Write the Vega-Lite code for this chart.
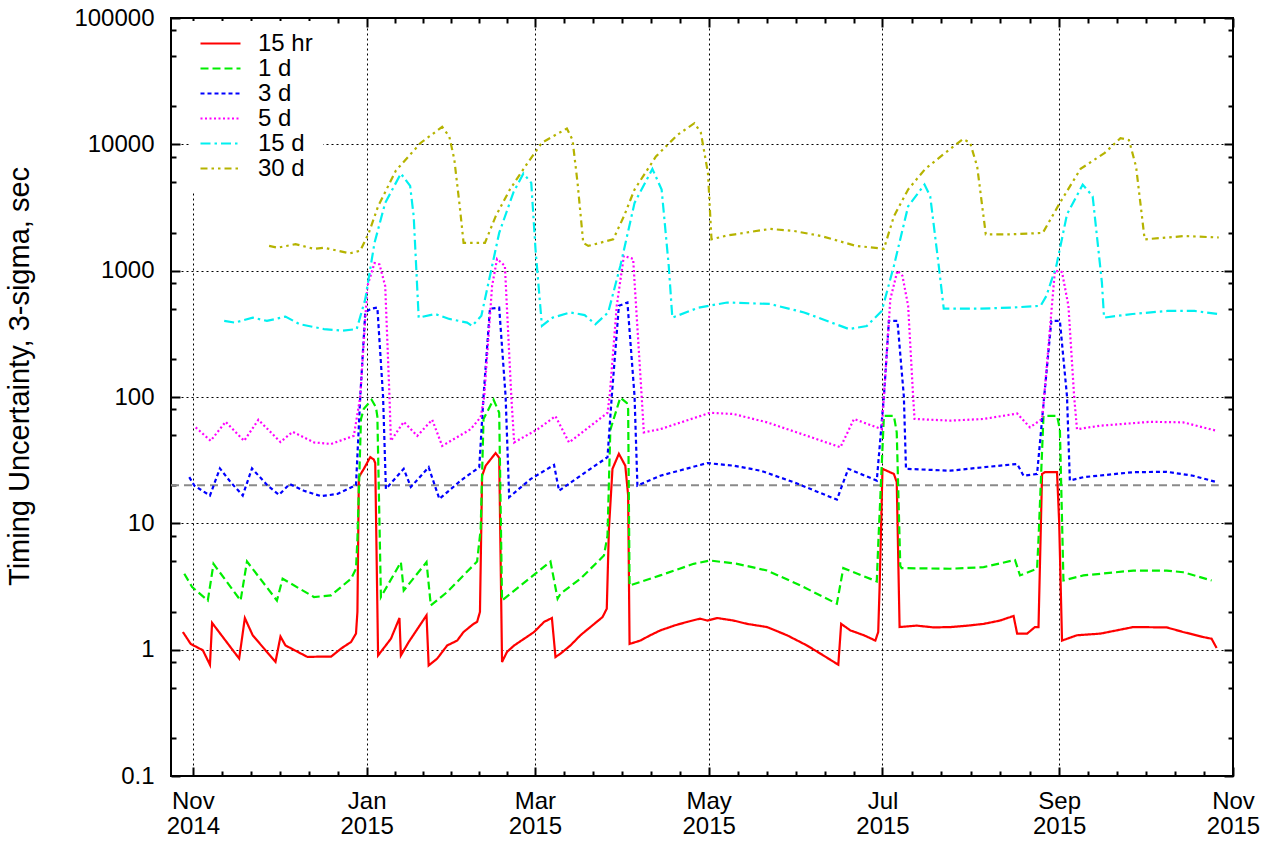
{
  "$schema": "https://vega.github.io/schema/vega-lite/v6.json",
  "width": 1062,
  "height": 758,
  "autosize": {"type": "none"},
  "padding": {"left": 171, "top": 18, "right": 38, "bottom": 66},
  "background": "white",
  "config": {
    "view": {"stroke": "black", "strokeWidth": 2},
    "font": "Liberation Sans",
    "axis": {"domain": false, "labelFont": "Liberation Sans", "titleFont": "Liberation Sans", "labelColor": "black", "tickColor": "black", "titleColor": "black"},
    "legend": {"labelFont": "Liberation Sans", "labelColor": "black"}
  },
  "datasets": {
    "ref": [
      {"t": "2014-10-24T08:00Z", "v": 20},
      {"t": "2015-10-27T00:00Z", "v": 20}
    ],
    "series": [
      {"s": "15 hr", "t": "2014-10-28T12:00Z", "v": 1.38},
      {"s": "15 hr", "t": "2014-10-31T06:00Z", "v": 1.11},
      {"s": "15 hr", "t": "2014-11-04T12:00Z", "v": 0.99},
      {"s": "15 hr", "t": "2014-11-07T00:00Z", "v": 0.76},
      {"s": "15 hr", "t": "2014-11-07T18:00Z", "v": 1.63},
      {"s": "15 hr", "t": "2014-11-17T06:00Z", "v": 0.85},
      {"s": "15 hr", "t": "2014-11-19T06:00Z", "v": 1.78},
      {"s": "15 hr", "t": "2014-11-22T00:00Z", "v": 1.30},
      {"s": "15 hr", "t": "2014-11-30T00:00Z", "v": 0.80},
      {"s": "15 hr", "t": "2014-12-01T18:00Z", "v": 1.27},
      {"s": "15 hr", "t": "2014-12-03T12:00Z", "v": 1.08},
      {"s": "15 hr", "t": "2014-12-11T06:00Z", "v": 0.875},
      {"s": "15 hr", "t": "2014-12-14T18:00Z", "v": 0.88},
      {"s": "15 hr", "t": "2014-12-19T12:00Z", "v": 0.88},
      {"s": "15 hr", "t": "2014-12-23T00:00Z", "v": 1.02},
      {"s": "15 hr", "t": "2014-12-26T12:00Z", "v": 1.15},
      {"s": "15 hr", "t": "2014-12-28T06:00Z", "v": 1.34},
      {"s": "15 hr", "t": "2014-12-28T18:00Z", "v": 1.99},
      {"s": "15 hr", "t": "2014-12-29T06:00Z", "v": 23.2},
      {"s": "15 hr", "t": "2014-12-31T00:00Z", "v": 27},
      {"s": "15 hr", "t": "2015-01-02T06:00Z", "v": 33.4},
      {"s": "15 hr", "t": "2015-01-03T12:00Z", "v": 32},
      {"s": "15 hr", "t": "2015-01-04T00:00Z", "v": 30},
      {"s": "15 hr", "t": "2015-01-05T00:00Z", "v": 0.9},
      {"s": "15 hr", "t": "2015-01-09T12:00Z", "v": 1.22},
      {"s": "15 hr", "t": "2015-01-12T12:00Z", "v": 1.78},
      {"s": "15 hr", "t": "2015-01-13T00:00Z", "v": 0.9},
      {"s": "15 hr", "t": "2015-01-15T18:00Z", "v": 1.15},
      {"s": "15 hr", "t": "2015-01-22T00:00Z", "v": 1.87},
      {"s": "15 hr", "t": "2015-01-22T18:00Z", "v": 0.75},
      {"s": "15 hr", "t": "2015-01-25T18:00Z", "v": 0.85},
      {"s": "15 hr", "t": "2015-01-29T06:00Z", "v": 1.08},
      {"s": "15 hr", "t": "2015-02-01T18:00Z", "v": 1.18},
      {"s": "15 hr", "t": "2015-02-04T00:00Z", "v": 1.38},
      {"s": "15 hr", "t": "2015-02-07T12:00Z", "v": 1.6},
      {"s": "15 hr", "t": "2015-02-08T18:00Z", "v": 1.66},
      {"s": "15 hr", "t": "2015-02-09T18:00Z", "v": 1.99},
      {"s": "15 hr", "t": "2015-02-10T12:00Z", "v": 23.8},
      {"s": "15 hr", "t": "2015-02-11T18:00Z", "v": 28.6},
      {"s": "15 hr", "t": "2015-02-15T06:00Z", "v": 36},
      {"s": "15 hr", "t": "2015-02-16T12:00Z", "v": 33},
      {"s": "15 hr", "t": "2015-02-17T12:00Z", "v": 0.8},
      {"s": "15 hr", "t": "2015-02-19T06:00Z", "v": 0.96},
      {"s": "15 hr", "t": "2015-02-21T18:00Z", "v": 1.08},
      {"s": "15 hr", "t": "2015-02-25T06:00Z", "v": 1.22},
      {"s": "15 hr", "t": "2015-02-28T18:00Z", "v": 1.38},
      {"s": "15 hr", "t": "2015-03-04T06:00Z", "v": 1.66},
      {"s": "15 hr", "t": "2015-03-07T00:00Z", "v": 1.78},
      {"s": "15 hr", "t": "2015-03-08T06:00Z", "v": 0.875},
      {"s": "15 hr", "t": "2015-03-10T00:00Z", "v": 0.93},
      {"s": "15 hr", "t": "2015-03-13T12:00Z", "v": 1.08},
      {"s": "15 hr", "t": "2015-03-17T00:00Z", "v": 1.30},
      {"s": "15 hr", "t": "2015-03-20T12:00Z", "v": 1.51},
      {"s": "15 hr", "t": "2015-03-24T18:00Z", "v": 1.81},
      {"s": "15 hr", "t": "2015-03-26T06:00Z", "v": 2.11},
      {"s": "15 hr", "t": "2015-03-27T00:00Z", "v": 9.0},
      {"s": "15 hr", "t": "2015-03-28T06:00Z", "v": 27},
      {"s": "15 hr", "t": "2015-03-30T12:00Z", "v": 35.5},
      {"s": "15 hr", "t": "2015-04-01T18:00Z", "v": 28.6},
      {"s": "15 hr", "t": "2015-04-02T18:00Z", "v": 16.6},
      {"s": "15 hr", "t": "2015-04-03T06:00Z", "v": 1.11},
      {"s": "15 hr", "t": "2015-04-07T00:00Z", "v": 1.18},
      {"s": "15 hr", "t": "2015-04-10T12:00Z", "v": 1.30},
      {"s": "15 hr", "t": "2015-04-14T00:00Z", "v": 1.42},
      {"s": "15 hr", "t": "2015-04-19T06:00Z", "v": 1.56},
      {"s": "15 hr", "t": "2015-04-23T12:00Z", "v": 1.66},
      {"s": "15 hr", "t": "2015-04-28T00:00Z", "v": 1.76},
      {"s": "15 hr", "t": "2015-04-30T12:00Z", "v": 1.70},
      {"s": "15 hr", "t": "2015-05-04T00:00Z", "v": 1.78},
      {"s": "15 hr", "t": "2015-05-09T18:00Z", "v": 1.70},
      {"s": "15 hr", "t": "2015-05-14T12:00Z", "v": 1.60},
      {"s": "15 hr", "t": "2015-05-21T12:00Z", "v": 1.51},
      {"s": "15 hr", "t": "2015-05-28T12:00Z", "v": 1.30},
      {"s": "15 hr", "t": "2015-06-04T12:00Z", "v": 1.08},
      {"s": "15 hr", "t": "2015-06-10T06:00Z", "v": 0.90},
      {"s": "15 hr", "t": "2015-06-15T12:00Z", "v": 0.76},
      {"s": "15 hr", "t": "2015-06-16T12:00Z", "v": 1.60},
      {"s": "15 hr", "t": "2015-06-19T18:00Z", "v": 1.42},
      {"s": "15 hr", "t": "2015-06-24T12:00Z", "v": 1.30},
      {"s": "15 hr", "t": "2015-06-28T12:00Z", "v": 1.18},
      {"s": "15 hr", "t": "2015-06-29T12:00Z", "v": 1.38},
      {"s": "15 hr", "t": "2015-06-30T00:00Z", "v": 3.2},
      {"s": "15 hr", "t": "2015-07-01T00:00Z", "v": 27},
      {"s": "15 hr", "t": "2015-07-05T00:00Z", "v": 24.6},
      {"s": "15 hr", "t": "2015-07-06T00:00Z", "v": 21.2},
      {"s": "15 hr", "t": "2015-07-07T00:00Z", "v": 1.51},
      {"s": "15 hr", "t": "2015-07-13T00:00Z", "v": 1.55},
      {"s": "15 hr", "t": "2015-07-19T00:00Z", "v": 1.50},
      {"s": "15 hr", "t": "2015-07-25T00:00Z", "v": 1.51},
      {"s": "15 hr", "t": "2015-07-31T00:00Z", "v": 1.55},
      {"s": "15 hr", "t": "2015-08-05T12:00Z", "v": 1.60},
      {"s": "15 hr", "t": "2015-08-11T06:00Z", "v": 1.70},
      {"s": "15 hr", "t": "2015-08-16T00:00Z", "v": 1.85},
      {"s": "15 hr", "t": "2015-08-17T06:00Z", "v": 1.34},
      {"s": "15 hr", "t": "2015-08-20T18:00Z", "v": 1.34},
      {"s": "15 hr", "t": "2015-08-23T12:00Z", "v": 1.51},
      {"s": "15 hr", "t": "2015-08-24T18:00Z", "v": 1.51},
      {"s": "15 hr", "t": "2015-08-26T00:00Z", "v": 24.6},
      {"s": "15 hr", "t": "2015-08-27T00:00Z", "v": 25.4},
      {"s": "15 hr", "t": "2015-08-31T06:00Z", "v": 25.4},
      {"s": "15 hr", "t": "2015-09-01T00:00Z", "v": 10.2},
      {"s": "15 hr", "t": "2015-09-02T00:00Z", "v": 1.18},
      {"s": "15 hr", "t": "2015-09-07T06:00Z", "v": 1.30},
      {"s": "15 hr", "t": "2015-09-15T12:00Z", "v": 1.34},
      {"s": "15 hr", "t": "2015-09-27T00:00Z", "v": 1.51},
      {"s": "15 hr", "t": "2015-10-08T18:00Z", "v": 1.50},
      {"s": "15 hr", "t": "2015-10-14T12:00Z", "v": 1.38},
      {"s": "15 hr", "t": "2015-10-21T12:00Z", "v": 1.26},
      {"s": "15 hr", "t": "2015-10-24T12:00Z", "v": 1.22},
      {"s": "15 hr", "t": "2015-10-26T06:00Z", "v": 1.03},

      {"s": "1 d", "t": "2014-10-29T00:00Z", "v": 3.99},
      {"s": "1 d", "t": "2014-10-31T18:00Z", "v": 3.13},
      {"s": "1 d", "t": "2014-11-06T06:00Z", "v": 2.45},
      {"s": "1 d", "t": "2014-11-08T06:00Z", "v": 4.78},
      {"s": "1 d", "t": "2014-11-17T18:00Z", "v": 2.45},
      {"s": "1 d", "t": "2014-11-20T00:00Z", "v": 4.99},
      {"s": "1 d", "t": "2014-11-30T12:00Z", "v": 2.45},
      {"s": "1 d", "t": "2014-12-02T12:00Z", "v": 3.64},
      {"s": "1 d", "t": "2014-12-13T12:00Z", "v": 2.61},
      {"s": "1 d", "t": "2014-12-19T12:00Z", "v": 2.69},
      {"s": "1 d", "t": "2014-12-26T12:00Z", "v": 3.64},
      {"s": "1 d", "t": "2014-12-28T06:00Z", "v": 4.37},
      {"s": "1 d", "t": "2014-12-28T18:00Z", "v": 7.5},
      {"s": "1 d", "t": "2014-12-30T00:00Z", "v": 67},
      {"s": "1 d", "t": "2014-12-31T00:00Z", "v": 80.5},
      {"s": "1 d", "t": "2015-01-02T18:00Z", "v": 95},
      {"s": "1 d", "t": "2015-01-04T06:00Z", "v": 83},
      {"s": "1 d", "t": "2015-01-04T18:00Z", "v": 70},
      {"s": "1 d", "t": "2015-01-06T00:00Z", "v": 2.61},
      {"s": "1 d", "t": "2015-01-13T00:00Z", "v": 4.93},
      {"s": "1 d", "t": "2015-01-14T00:00Z", "v": 2.94},
      {"s": "1 d", "t": "2015-01-22T00:00Z", "v": 4.93},
      {"s": "1 d", "t": "2015-01-23T12:00Z", "v": 2.24},
      {"s": "1 d", "t": "2015-01-29T06:00Z", "v": 2.86},
      {"s": "1 d", "t": "2015-02-08T18:00Z", "v": 4.99},
      {"s": "1 d", "t": "2015-02-10T00:00Z", "v": 9.0},
      {"s": "1 d", "t": "2015-02-11T00:00Z", "v": 67},
      {"s": "1 d", "t": "2015-02-14T12:00Z", "v": 95.5},
      {"s": "1 d", "t": "2015-02-16T12:00Z", "v": 75},
      {"s": "1 d", "t": "2015-02-17T12:00Z", "v": 2.45},
      {"s": "1 d", "t": "2015-02-24T00:00Z", "v": 3.22},
      {"s": "1 d", "t": "2015-03-06T12:00Z", "v": 4.99},
      {"s": "1 d", "t": "2015-03-09T00:00Z", "v": 2.53},
      {"s": "1 d", "t": "2015-03-10T00:00Z", "v": 2.77},
      {"s": "1 d", "t": "2015-03-17T00:00Z", "v": 3.64},
      {"s": "1 d", "t": "2015-03-25T06:00Z", "v": 5.56},
      {"s": "1 d", "t": "2015-03-26T12:00Z", "v": 8},
      {"s": "1 d", "t": "2015-03-27T12:00Z", "v": 55},
      {"s": "1 d", "t": "2015-03-31T00:00Z", "v": 99},
      {"s": "1 d", "t": "2015-04-02T06:00Z", "v": 90},
      {"s": "1 d", "t": "2015-04-02T18:00Z", "v": 80},
      {"s": "1 d", "t": "2015-04-03T06:00Z", "v": 3.22},
      {"s": "1 d", "t": "2015-04-14T00:00Z", "v": 3.87},
      {"s": "1 d", "t": "2015-04-25T18:00Z", "v": 4.78},
      {"s": "1 d", "t": "2015-05-01T12:00Z", "v": 5.08},
      {"s": "1 d", "t": "2015-05-11T00:00Z", "v": 4.78},
      {"s": "1 d", "t": "2015-05-21T12:00Z", "v": 4.23},
      {"s": "1 d", "t": "2015-06-02T06:00Z", "v": 3.22},
      {"s": "1 d", "t": "2015-06-15T00:00Z", "v": 2.31},
      {"s": "1 d", "t": "2015-06-17T06:00Z", "v": 4.42},
      {"s": "1 d", "t": "2015-06-29T00:00Z", "v": 3.47},
      {"s": "1 d", "t": "2015-06-29T12:00Z", "v": 6.7},
      {"s": "1 d", "t": "2015-07-01T12:00Z", "v": 71},
      {"s": "1 d", "t": "2015-07-05T00:00Z", "v": 71},
      {"s": "1 d", "t": "2015-07-06T00:00Z", "v": 52.5},
      {"s": "1 d", "t": "2015-07-07T06:00Z", "v": 4.6},
      {"s": "1 d", "t": "2015-07-07T18:00Z", "v": 4.42},
      {"s": "1 d", "t": "2015-07-24T18:00Z", "v": 4.37},
      {"s": "1 d", "t": "2015-08-05T12:00Z", "v": 4.5},
      {"s": "1 d", "t": "2015-08-16T12:00Z", "v": 5.13},
      {"s": "1 d", "t": "2015-08-18T06:00Z", "v": 3.87},
      {"s": "1 d", "t": "2015-08-24T06:00Z", "v": 4.37},
      {"s": "1 d", "t": "2015-08-24T18:00Z", "v": 7.5},
      {"s": "1 d", "t": "2015-08-26T12:00Z", "v": 71},
      {"s": "1 d", "t": "2015-08-31T06:00Z", "v": 71},
      {"s": "1 d", "t": "2015-09-01T06:00Z", "v": 55.6},
      {"s": "1 d", "t": "2015-09-02T12:00Z", "v": 3.53},
      {"s": "1 d", "t": "2015-09-09T12:00Z", "v": 3.87},
      {"s": "1 d", "t": "2015-09-27T00:00Z", "v": 4.23},
      {"s": "1 d", "t": "2015-10-08T18:00Z", "v": 4.23},
      {"s": "1 d", "t": "2015-10-14T12:00Z", "v": 4.1},
      {"s": "1 d", "t": "2015-10-24T12:00Z", "v": 3.53},

      {"s": "3 d", "t": "2014-10-30T18:00Z", "v": 23.2},
      {"s": "3 d", "t": "2014-11-01T12:00Z", "v": 19.9},
      {"s": "3 d", "t": "2014-11-07T00:00Z", "v": 16.6},
      {"s": "3 d", "t": "2014-11-10T12:00Z", "v": 27.2},
      {"s": "3 d", "t": "2014-11-14T06:00Z", "v": 21.2},
      {"s": "3 d", "t": "2014-11-18T12:00Z", "v": 16.6},
      {"s": "3 d", "t": "2014-11-21T18:00Z", "v": 27.2},
      {"s": "3 d", "t": "2014-11-27T06:00Z", "v": 19.9},
      {"s": "3 d", "t": "2014-12-01T06:00Z", "v": 16.8},
      {"s": "3 d", "t": "2014-12-05T00:00Z", "v": 20.5},
      {"s": "3 d", "t": "2014-12-10T00:00Z", "v": 18.1},
      {"s": "3 d", "t": "2014-12-16T00:00Z", "v": 16.4},
      {"s": "3 d", "t": "2014-12-21T18:00Z", "v": 17.1},
      {"s": "3 d", "t": "2014-12-28T06:00Z", "v": 20.1},
      {"s": "3 d", "t": "2014-12-29T18:00Z", "v": 101},
      {"s": "3 d", "t": "2014-12-31T12:00Z", "v": 467},
      {"s": "3 d", "t": "2015-01-02T12:00Z", "v": 500},
      {"s": "3 d", "t": "2015-01-04T18:00Z", "v": 510},
      {"s": "3 d", "t": "2015-01-06T18:00Z", "v": 101},
      {"s": "3 d", "t": "2015-01-07T18:00Z", "v": 18.7},
      {"s": "3 d", "t": "2015-01-14T00:00Z", "v": 27},
      {"s": "3 d", "t": "2015-01-16T12:00Z", "v": 19.4},
      {"s": "3 d", "t": "2015-01-22T18:00Z", "v": 27.8},
      {"s": "3 d", "t": "2015-01-26T12:00Z", "v": 15.6},
      {"s": "3 d", "t": "2015-02-03T00:00Z", "v": 21.8},
      {"s": "3 d", "t": "2015-02-09T12:00Z", "v": 27.8},
      {"s": "3 d", "t": "2015-02-11T00:00Z", "v": 101},
      {"s": "3 d", "t": "2015-02-13T06:00Z", "v": 500},
      {"s": "3 d", "t": "2015-02-16T12:00Z", "v": 510},
      {"s": "3 d", "t": "2015-02-18T18:00Z", "v": 101},
      {"s": "3 d", "t": "2015-02-20T00:00Z", "v": 16.1},
      {"s": "3 d", "t": "2015-02-27T12:00Z", "v": 22.4},
      {"s": "3 d", "t": "2015-03-07T18:00Z", "v": 29},
      {"s": "3 d", "t": "2015-03-09T12:00Z", "v": 18.1},
      {"s": "3 d", "t": "2015-03-17T00:00Z", "v": 23.8},
      {"s": "3 d", "t": "2015-03-26T12:00Z", "v": 33.4},
      {"s": "3 d", "t": "2015-03-28T00:00Z", "v": 101},
      {"s": "3 d", "t": "2015-03-30T12:00Z", "v": 527},
      {"s": "3 d", "t": "2015-04-02T12:00Z", "v": 560},
      {"s": "3 d", "t": "2015-04-05T00:00Z", "v": 101},
      {"s": "3 d", "t": "2015-04-06T00:00Z", "v": 19.9},
      {"s": "3 d", "t": "2015-04-14T00:00Z", "v": 23.8},
      {"s": "3 d", "t": "2015-04-30T12:00Z", "v": 30},
      {"s": "3 d", "t": "2015-05-09T18:00Z", "v": 28.6},
      {"s": "3 d", "t": "2015-05-19T06:00Z", "v": 26.1},
      {"s": "3 d", "t": "2015-05-30T18:00Z", "v": 21.2},
      {"s": "3 d", "t": "2015-06-15T00:00Z", "v": 15.4},
      {"s": "3 d", "t": "2015-06-19T00:00Z", "v": 27},
      {"s": "3 d", "t": "2015-06-29T00:00Z", "v": 21.8},
      {"s": "3 d", "t": "2015-07-01T12:00Z", "v": 101},
      {"s": "3 d", "t": "2015-07-03T06:00Z", "v": 400},
      {"s": "3 d", "t": "2015-07-06T06:00Z", "v": 400},
      {"s": "3 d", "t": "2015-07-08T12:00Z", "v": 101},
      {"s": "3 d", "t": "2015-07-09T06:00Z", "v": 27},
      {"s": "3 d", "t": "2015-07-24T18:00Z", "v": 26.1},
      {"s": "3 d", "t": "2015-08-05T12:00Z", "v": 27.8},
      {"s": "3 d", "t": "2015-08-17T06:00Z", "v": 29.5},
      {"s": "3 d", "t": "2015-08-19T12:00Z", "v": 23.8},
      {"s": "3 d", "t": "2015-08-24T06:00Z", "v": 24.6},
      {"s": "3 d", "t": "2015-08-26T18:00Z", "v": 101},
      {"s": "3 d", "t": "2015-08-29T06:00Z", "v": 400},
      {"s": "3 d", "t": "2015-09-01T06:00Z", "v": 400},
      {"s": "3 d", "t": "2015-09-03T18:00Z", "v": 101},
      {"s": "3 d", "t": "2015-09-04T18:00Z", "v": 21.8},
      {"s": "3 d", "t": "2015-09-09T12:00Z", "v": 23.2},
      {"s": "3 d", "t": "2015-09-27T00:00Z", "v": 25.4},
      {"s": "3 d", "t": "2015-10-08T18:00Z", "v": 25.6},
      {"s": "3 d", "t": "2015-10-18T00:00Z", "v": 23.8},
      {"s": "3 d", "t": "2015-10-26T06:00Z", "v": 21.2},

      {"s": "5 d", "t": "2014-11-02T00:00Z", "v": 57.5},
      {"s": "5 d", "t": "2014-11-07T06:00Z", "v": 45},
      {"s": "5 d", "t": "2014-11-12T12:00Z", "v": 63.6},
      {"s": "5 d", "t": "2014-11-19T00:00Z", "v": 45},
      {"s": "5 d", "t": "2014-11-24T00:00Z", "v": 66},
      {"s": "5 d", "t": "2014-12-01T18:00Z", "v": 44},
      {"s": "5 d", "t": "2014-12-06T00:00Z", "v": 53},
      {"s": "5 d", "t": "2014-12-13T12:00Z", "v": 43.7},
      {"s": "5 d", "t": "2014-12-19T12:00Z", "v": 42.5},
      {"s": "5 d", "t": "2014-12-27T12:00Z", "v": 49.3},
      {"s": "5 d", "t": "2014-12-29T18:00Z", "v": 101},
      {"s": "5 d", "t": "2015-01-01T06:00Z", "v": 755},
      {"s": "5 d", "t": "2015-01-03T18:00Z", "v": 1150},
      {"s": "5 d", "t": "2015-01-05T12:00Z", "v": 1120},
      {"s": "5 d", "t": "2015-01-07T12:00Z", "v": 755},
      {"s": "5 d", "t": "2015-01-09T00:00Z", "v": 101},
      {"s": "5 d", "t": "2015-01-09T12:00Z", "v": 45},
      {"s": "5 d", "t": "2015-01-14T00:00Z", "v": 63.6},
      {"s": "5 d", "t": "2015-01-18T18:00Z", "v": 49.3},
      {"s": "5 d", "t": "2015-01-24T00:00Z", "v": 66},
      {"s": "5 d", "t": "2015-01-27T12:00Z", "v": 41},
      {"s": "5 d", "t": "2015-02-06T12:00Z", "v": 55.6},
      {"s": "5 d", "t": "2015-02-10T00:00Z", "v": 69.3},
      {"s": "5 d", "t": "2015-02-11T06:00Z", "v": 101},
      {"s": "5 d", "t": "2015-02-14T00:00Z", "v": 755},
      {"s": "5 d", "t": "2015-02-15T18:00Z", "v": 1240},
      {"s": "5 d", "t": "2015-02-18T12:00Z", "v": 1090},
      {"s": "5 d", "t": "2015-02-20T18:00Z", "v": 101},
      {"s": "5 d", "t": "2015-02-21T18:00Z", "v": 43.7},
      {"s": "5 d", "t": "2015-03-02T00:00Z", "v": 55.6},
      {"s": "5 d", "t": "2015-03-08T06:00Z", "v": 70.5},
      {"s": "5 d", "t": "2015-03-13T00:00Z", "v": 43.7},
      {"s": "5 d", "t": "2015-03-26T12:00Z", "v": 75},
      {"s": "5 d", "t": "2015-03-27T06:00Z", "v": 101},
      {"s": "5 d", "t": "2015-03-29T18:00Z", "v": 527},
      {"s": "5 d", "t": "2015-04-01T06:00Z", "v": 1310},
      {"s": "5 d", "t": "2015-04-04T12:00Z", "v": 1240},
      {"s": "5 d", "t": "2015-04-07T12:00Z", "v": 101},
      {"s": "5 d", "t": "2015-04-08T06:00Z", "v": 52.5},
      {"s": "5 d", "t": "2015-04-14T00:00Z", "v": 55.6},
      {"s": "5 d", "t": "2015-05-01T12:00Z", "v": 75},
      {"s": "5 d", "t": "2015-05-09T18:00Z", "v": 73.3},
      {"s": "5 d", "t": "2015-05-21T12:00Z", "v": 63},
      {"s": "5 d", "t": "2015-06-04T12:00Z", "v": 49.3},
      {"s": "5 d", "t": "2015-06-16T06:00Z", "v": 40},
      {"s": "5 d", "t": "2015-06-21T00:00Z", "v": 67},
      {"s": "5 d", "t": "2015-06-30T18:00Z", "v": 55.6},
      {"s": "5 d", "t": "2015-07-01T12:00Z", "v": 101},
      {"s": "5 d", "t": "2015-07-03T18:00Z", "v": 595},
      {"s": "5 d", "t": "2015-07-06T06:00Z", "v": 1000},
      {"s": "5 d", "t": "2015-07-08T00:00Z", "v": 910},
      {"s": "5 d", "t": "2015-07-10T00:00Z", "v": 527},
      {"s": "5 d", "t": "2015-07-11T18:00Z", "v": 101},
      {"s": "5 d", "t": "2015-07-12T06:00Z", "v": 67},
      {"s": "5 d", "t": "2015-07-24T18:00Z", "v": 65},
      {"s": "5 d", "t": "2015-08-05T12:00Z", "v": 67},
      {"s": "5 d", "t": "2015-08-17T06:00Z", "v": 74},
      {"s": "5 d", "t": "2015-08-21T18:00Z", "v": 57.5},
      {"s": "5 d", "t": "2015-08-26T00:00Z", "v": 67},
      {"s": "5 d", "t": "2015-08-26T18:00Z", "v": 101},
      {"s": "5 d", "t": "2015-08-30T12:00Z", "v": 1000},
      {"s": "5 d", "t": "2015-09-02T00:00Z", "v": 975},
      {"s": "5 d", "t": "2015-09-04T06:00Z", "v": 527},
      {"s": "5 d", "t": "2015-09-06T06:00Z", "v": 101},
      {"s": "5 d", "t": "2015-09-07T06:00Z", "v": 55.6},
      {"s": "5 d", "t": "2015-09-15T12:00Z", "v": 59.3},
      {"s": "5 d", "t": "2015-10-03T00:00Z", "v": 63.6},
      {"s": "5 d", "t": "2015-10-14T12:00Z", "v": 63},
      {"s": "5 d", "t": "2015-10-26T06:00Z", "v": 54},

      {"s": "15 d", "t": "2014-11-12T00:00Z", "v": 400},
      {"s": "15 d", "t": "2014-11-15T18:00Z", "v": 388},
      {"s": "15 d", "t": "2014-11-22T00:00Z", "v": 425},
      {"s": "15 d", "t": "2014-11-27T00:00Z", "v": 400},
      {"s": "15 d", "t": "2014-12-03T12:00Z", "v": 433},
      {"s": "15 d", "t": "2014-12-08T12:00Z", "v": 377},
      {"s": "15 d", "t": "2014-12-17T00:00Z", "v": 345},
      {"s": "15 d", "t": "2014-12-23T12:00Z", "v": 335},
      {"s": "15 d", "t": "2014-12-28T12:00Z", "v": 345},
      {"s": "15 d", "t": "2014-12-31T12:00Z", "v": 595},
      {"s": "15 d", "t": "2015-01-03T18:00Z", "v": 1660},
      {"s": "15 d", "t": "2015-01-07T12:00Z", "v": 3440},
      {"s": "15 d", "t": "2015-01-13T00:00Z", "v": 5870},
      {"s": "15 d", "t": "2015-01-16T06:00Z", "v": 4690},
      {"s": "15 d", "t": "2015-01-17T12:00Z", "v": 2690},
      {"s": "15 d", "t": "2015-01-19T06:00Z", "v": 425},
      {"s": "15 d", "t": "2015-01-25T00:00Z", "v": 454},
      {"s": "15 d", "t": "2015-01-30T00:00Z", "v": 415},
      {"s": "15 d", "t": "2015-02-05T06:00Z", "v": 388},
      {"s": "15 d", "t": "2015-02-07T00:00Z", "v": 365},
      {"s": "15 d", "t": "2015-02-10T06:00Z", "v": 440},
      {"s": "15 d", "t": "2015-02-12T18:00Z", "v": 805},
      {"s": "15 d", "t": "2015-02-16T12:00Z", "v": 1990},
      {"s": "15 d", "t": "2015-02-21T12:00Z", "v": 4170},
      {"s": "15 d", "t": "2015-02-25T00:00Z", "v": 5870},
      {"s": "15 d", "t": "2015-02-27T18:00Z", "v": 4950},
      {"s": "15 d", "t": "2015-03-01T06:00Z", "v": 1470},
      {"s": "15 d", "t": "2015-03-03T12:00Z", "v": 365},
      {"s": "15 d", "t": "2015-03-07T06:00Z", "v": 425},
      {"s": "15 d", "t": "2015-03-13T12:00Z", "v": 467},
      {"s": "15 d", "t": "2015-03-18T12:00Z", "v": 445},
      {"s": "15 d", "t": "2015-03-22T06:00Z", "v": 377},
      {"s": "15 d", "t": "2015-03-26T18:00Z", "v": 467},
      {"s": "15 d", "t": "2015-03-31T00:00Z", "v": 1090},
      {"s": "15 d", "t": "2015-04-05T00:00Z", "v": 3440},
      {"s": "15 d", "t": "2015-04-11T06:00Z", "v": 6390},
      {"s": "15 d", "t": "2015-04-14T12:00Z", "v": 4390},
      {"s": "15 d", "t": "2015-04-17T00:00Z", "v": 1090},
      {"s": "15 d", "t": "2015-04-18T06:00Z", "v": 425},
      {"s": "15 d", "t": "2015-04-27T12:00Z", "v": 510},
      {"s": "15 d", "t": "2015-05-07T12:00Z", "v": 560},
      {"s": "15 d", "t": "2015-05-22T12:00Z", "v": 545},
      {"s": "15 d", "t": "2015-06-03T12:00Z", "v": 467},
      {"s": "15 d", "t": "2015-06-19T06:00Z", "v": 345},
      {"s": "15 d", "t": "2015-06-25T12:00Z", "v": 365},
      {"s": "15 d", "t": "2015-06-30T18:00Z", "v": 480},
      {"s": "15 d", "t": "2015-07-05T00:00Z", "v": 1090},
      {"s": "15 d", "t": "2015-07-10T00:00Z", "v": 3230},
      {"s": "15 d", "t": "2015-07-15T18:00Z", "v": 4800},
      {"s": "15 d", "t": "2015-07-17T18:00Z", "v": 3880},
      {"s": "15 d", "t": "2015-07-20T18:00Z", "v": 1090},
      {"s": "15 d", "t": "2015-07-22T12:00Z", "v": 500},
      {"s": "15 d", "t": "2015-08-03T06:00Z", "v": 500},
      {"s": "15 d", "t": "2015-08-15T06:00Z", "v": 510},
      {"s": "15 d", "t": "2015-08-25T12:00Z", "v": 527},
      {"s": "15 d", "t": "2015-08-27T12:00Z", "v": 630},
      {"s": "15 d", "t": "2015-08-31T00:00Z", "v": 1090},
      {"s": "15 d", "t": "2015-09-03T18:00Z", "v": 2790},
      {"s": "15 d", "t": "2015-09-09T06:00Z", "v": 4800},
      {"s": "15 d", "t": "2015-09-12T18:00Z", "v": 3880},
      {"s": "15 d", "t": "2015-09-16T00:00Z", "v": 805},
      {"s": "15 d", "t": "2015-09-16T18:00Z", "v": 425},
      {"s": "15 d", "t": "2015-09-26T18:00Z", "v": 454},
      {"s": "15 d", "t": "2015-10-09T00:00Z", "v": 480},
      {"s": "15 d", "t": "2015-10-18T12:00Z", "v": 480},
      {"s": "15 d", "t": "2015-10-26T12:00Z", "v": 454},

      {"s": "30 d", "t": "2014-11-27T18:00Z", "v": 1570},
      {"s": "30 d", "t": "2014-11-30T18:00Z", "v": 1520},
      {"s": "30 d", "t": "2014-12-07T00:00Z", "v": 1620},
      {"s": "30 d", "t": "2014-12-13T12:00Z", "v": 1490},
      {"s": "30 d", "t": "2014-12-17T00:00Z", "v": 1520},
      {"s": "30 d", "t": "2014-12-26T00:00Z", "v": 1370},
      {"s": "30 d", "t": "2014-12-29T18:00Z", "v": 1440},
      {"s": "30 d", "t": "2015-01-01T18:00Z", "v": 1990},
      {"s": "30 d", "t": "2015-01-05T00:00Z", "v": 3230},
      {"s": "30 d", "t": "2015-01-11T06:00Z", "v": 6200},
      {"s": "30 d", "t": "2015-01-20T00:00Z", "v": 10300},
      {"s": "30 d", "t": "2015-01-27T12:00Z", "v": 13750},
      {"s": "30 d", "t": "2015-01-30T00:00Z", "v": 11500},
      {"s": "30 d", "t": "2015-01-31T18:00Z", "v": 7600},
      {"s": "30 d", "t": "2015-02-02T18:00Z", "v": 3090},
      {"s": "30 d", "t": "2015-02-04T00:00Z", "v": 1660},
      {"s": "30 d", "t": "2015-02-11T12:00Z", "v": 1660},
      {"s": "30 d", "t": "2015-02-15T06:00Z", "v": 2690},
      {"s": "30 d", "t": "2015-02-20T06:00Z", "v": 4390},
      {"s": "30 d", "t": "2015-02-26T12:00Z", "v": 7150},
      {"s": "30 d", "t": "2015-03-03T12:00Z", "v": 10300},
      {"s": "30 d", "t": "2015-03-12T06:00Z", "v": 13350},
      {"s": "30 d", "t": "2015-03-14T06:00Z", "v": 10800},
      {"s": "30 d", "t": "2015-03-16T00:00Z", "v": 4950},
      {"s": "30 d", "t": "2015-03-18T00:00Z", "v": 1660},
      {"s": "30 d", "t": "2015-03-19T18:00Z", "v": 1570},
      {"s": "30 d", "t": "2015-03-28T12:00Z", "v": 1770},
      {"s": "30 d", "t": "2015-04-01T06:00Z", "v": 2690},
      {"s": "30 d", "t": "2015-04-05T00:00Z", "v": 4390},
      {"s": "30 d", "t": "2015-04-12T12:00Z", "v": 8010},
      {"s": "30 d", "t": "2015-04-20T00:00Z", "v": 11850},
      {"s": "30 d", "t": "2015-04-26T00:00Z", "v": 14700},
      {"s": "30 d", "t": "2015-04-28T06:00Z", "v": 12400},
      {"s": "30 d", "t": "2015-04-30T18:00Z", "v": 5950},
      {"s": "30 d", "t": "2015-05-02T00:00Z", "v": 1770},
      {"s": "30 d", "t": "2015-05-07T12:00Z", "v": 1900},
      {"s": "30 d", "t": "2015-05-10T06:00Z", "v": 1940},
      {"s": "30 d", "t": "2015-05-22T12:00Z", "v": 2140},
      {"s": "30 d", "t": "2015-05-31T00:00Z", "v": 2060},
      {"s": "30 d", "t": "2015-06-09T12:00Z", "v": 1880},
      {"s": "30 d", "t": "2015-06-21T18:00Z", "v": 1570},
      {"s": "30 d", "t": "2015-07-01T12:00Z", "v": 1490},
      {"s": "30 d", "t": "2015-07-05T00:00Z", "v": 2690},
      {"s": "30 d", "t": "2015-07-10T00:00Z", "v": 4390},
      {"s": "30 d", "t": "2015-07-16T00:00Z", "v": 6390},
      {"s": "30 d", "t": "2015-07-22T00:00Z", "v": 8200},
      {"s": "30 d", "t": "2015-07-29T06:00Z", "v": 11000},
      {"s": "30 d", "t": "2015-07-31T18:00Z", "v": 10300},
      {"s": "30 d", "t": "2015-08-03T06:00Z", "v": 6630},
      {"s": "30 d", "t": "2015-08-05T00:00Z", "v": 3230},
      {"s": "30 d", "t": "2015-08-06T06:00Z", "v": 1940},
      {"s": "30 d", "t": "2015-08-15T06:00Z", "v": 1940},
      {"s": "30 d", "t": "2015-08-26T06:00Z", "v": 1990},
      {"s": "30 d", "t": "2015-09-01T06:00Z", "v": 3440},
      {"s": "30 d", "t": "2015-09-08T12:00Z", "v": 6390},
      {"s": "30 d", "t": "2015-09-17T00:00Z", "v": 8560},
      {"s": "30 d", "t": "2015-09-22T12:00Z", "v": 11200},
      {"s": "30 d", "t": "2015-09-25T12:00Z", "v": 10800},
      {"s": "30 d", "t": "2015-09-28T00:00Z", "v": 6630},
      {"s": "30 d", "t": "2015-10-01T00:00Z", "v": 1770},
      {"s": "30 d", "t": "2015-10-09T00:00Z", "v": 1830},
      {"s": "30 d", "t": "2015-10-15T00:00Z", "v": 1880},
      {"s": "30 d", "t": "2015-10-27T00:00Z", "v": 1830}
    ]
  },
  "layer": [
    {
      "data": {"name": "ref"},
      "mark": {"type": "line", "color": "#8a8a8a", "strokeWidth": 2, "strokeDash": [8, 5]},
      "encoding": {
        "x": {"field": "t", "type": "temporal", "scale": {"type": "utc", "nice": false, "domain": [{"year": 2014, "month": 10, "date": 24, "hours": 8, "utc": true}, {"year": 2015, "month": 11, "date": 1, "utc": true}]},
          "axis": {"orient": "bottom", "title": null, "labels": false, "grid": false, "domain": false, "ticks": true, "tickSize": -9, "tickWidth": 2,
            "values": [{"year": 2014, "month": 11, "date": 1, "utc": true}, {"year": 2015, "month": 1, "date": 1, "utc": true}, {"year": 2015, "month": 3, "date": 1, "utc": true}, {"year": 2015, "month": 5, "date": 1, "utc": true}, {"year": 2015, "month": 7, "date": 1, "utc": true}, {"year": 2015, "month": 9, "date": 1, "utc": true}, {"year": 2015, "month": 11, "date": 1, "utc": true}]}},
        "y": {"field": "v", "type": "quantitative", "scale": {"type": "log", "domain": [0.1, 100000]},
          "axis": {"orient": "left", "title": null, "labels": false, "grid": false, "domain": false, "ticks": true, "tickSize": -9, "tickWidth": 2, "values": [0.1, 1, 10, 100, 1000, 10000, 100000]}}
      }
    },
    {
      "data": {"name": "ref"},
      "mark": {"type": "line", "opacity": 0},
      "encoding": {
        "x": {"field": "t", "type": "temporal", "scale": {"type": "utc", "nice": false, "domain": [{"year": 2014, "month": 10, "date": 24, "hours": 8, "utc": true}, {"year": 2015, "month": 11, "date": 1, "utc": true}]},
          "axis": {"orient": "bottom", "title": null, "labels": false, "grid": false, "domain": false, "ticks": true, "tickSize": -5, "tickWidth": 2,
            "values": [
              {"year": 2014, "month": 11, "date": 11, "hours": 4, "utc": true}, {"year": 2014, "month": 11, "date": 21, "hours": 8, "utc": true}, {"year": 2014, "month": 12, "date": 1, "hours": 12, "utc": true}, {"year": 2014, "month": 12, "date": 11, "hours": 16, "utc": true}, {"year": 2014, "month": 12, "date": 21, "hours": 20, "utc": true},
              {"year": 2015, "month": 1, "date": 10, "hours": 20, "utc": true}, {"year": 2015, "month": 1, "date": 20, "hours": 16, "utc": true}, {"year": 2015, "month": 1, "date": 30, "hours": 12, "utc": true}, {"year": 2015, "month": 2, "date": 9, "hours": 8, "utc": true}, {"year": 2015, "month": 2, "date": 19, "hours": 4, "utc": true},
              {"year": 2015, "month": 3, "date": 11, "hours": 4, "utc": true}, {"year": 2015, "month": 3, "date": 21, "hours": 8, "utc": true}, {"year": 2015, "month": 3, "date": 31, "hours": 12, "utc": true}, {"year": 2015, "month": 4, "date": 10, "hours": 16, "utc": true}, {"year": 2015, "month": 4, "date": 20, "hours": 20, "utc": true},
              {"year": 2015, "month": 5, "date": 11, "hours": 4, "utc": true}, {"year": 2015, "month": 5, "date": 21, "hours": 8, "utc": true}, {"year": 2015, "month": 5, "date": 31, "hours": 12, "utc": true}, {"year": 2015, "month": 6, "date": 10, "hours": 16, "utc": true}, {"year": 2015, "month": 6, "date": 20, "hours": 20, "utc": true},
              {"year": 2015, "month": 7, "date": 11, "hours": 8, "utc": true}, {"year": 2015, "month": 7, "date": 21, "hours": 16, "utc": true}, {"year": 2015, "month": 8, "date": 1, "utc": true}, {"year": 2015, "month": 8, "date": 11, "hours": 8, "utc": true}, {"year": 2015, "month": 8, "date": 21, "hours": 16, "utc": true},
              {"year": 2015, "month": 9, "date": 11, "hours": 4, "utc": true}, {"year": 2015, "month": 9, "date": 21, "hours": 8, "utc": true}, {"year": 2015, "month": 10, "date": 1, "hours": 12, "utc": true}, {"year": 2015, "month": 10, "date": 11, "hours": 16, "utc": true}, {"year": 2015, "month": 10, "date": 21, "hours": 20, "utc": true}
            ]}},
        "y": {"field": "v", "type": "quantitative", "scale": {"type": "log", "domain": [0.1, 100000]},
          "axis": {"orient": "left", "title": null, "labels": false, "grid": false, "domain": false, "ticks": true, "tickSize": -5, "tickWidth": 2,
            "values": [0.2, 0.5, 0.8, 2, 5, 8, 20, 50, 80, 200, 500, 800, 2000, 5000, 8000, 20000, 50000, 80000]}}
      }
    },
    {
      "data": {"name": "ref"},
      "mark": {"type": "line", "opacity": 0},
      "encoding": {
        "x": {"field": "t", "type": "temporal", "scale": {"type": "utc", "nice": false, "domain": [{"year": 2014, "month": 10, "date": 24, "hours": 8, "utc": true}, {"year": 2015, "month": 11, "date": 1, "utc": true}]},
          "axis": {"orient": "top", "title": null, "labels": false, "grid": false, "domain": false, "ticks": true, "tickSize": -9, "tickWidth": 2,
            "values": [{"year": 2014, "month": 11, "date": 1, "utc": true}, {"year": 2015, "month": 1, "date": 1, "utc": true}, {"year": 2015, "month": 3, "date": 1, "utc": true}, {"year": 2015, "month": 5, "date": 1, "utc": true}, {"year": 2015, "month": 7, "date": 1, "utc": true}, {"year": 2015, "month": 9, "date": 1, "utc": true}, {"year": 2015, "month": 11, "date": 1, "utc": true}]}},
        "y": {"field": "v", "type": "quantitative", "scale": {"type": "log", "domain": [0.1, 100000]},
          "axis": {"orient": "right", "title": null, "labels": false, "grid": false, "domain": false, "ticks": true, "tickSize": -9, "tickWidth": 2, "values": [0.1, 1, 10, 100, 1000, 10000, 100000]}}
      }
    },
    {
      "data": {"name": "ref"},
      "mark": {"type": "line", "opacity": 0},
      "encoding": {
        "x": {"field": "t", "type": "temporal", "scale": {"type": "utc", "nice": false, "domain": [{"year": 2014, "month": 10, "date": 24, "hours": 8, "utc": true}, {"year": 2015, "month": 11, "date": 1, "utc": true}]},
          "axis": {"orient": "top", "title": null, "labels": false, "grid": false, "domain": false, "ticks": true, "tickSize": -5, "tickWidth": 2,
            "values": [
              {"year": 2014, "month": 11, "date": 11, "hours": 4, "utc": true}, {"year": 2014, "month": 11, "date": 21, "hours": 8, "utc": true}, {"year": 2014, "month": 12, "date": 1, "hours": 12, "utc": true}, {"year": 2014, "month": 12, "date": 11, "hours": 16, "utc": true}, {"year": 2014, "month": 12, "date": 21, "hours": 20, "utc": true},
              {"year": 2015, "month": 1, "date": 10, "hours": 20, "utc": true}, {"year": 2015, "month": 1, "date": 20, "hours": 16, "utc": true}, {"year": 2015, "month": 1, "date": 30, "hours": 12, "utc": true}, {"year": 2015, "month": 2, "date": 9, "hours": 8, "utc": true}, {"year": 2015, "month": 2, "date": 19, "hours": 4, "utc": true},
              {"year": 2015, "month": 3, "date": 11, "hours": 4, "utc": true}, {"year": 2015, "month": 3, "date": 21, "hours": 8, "utc": true}, {"year": 2015, "month": 3, "date": 31, "hours": 12, "utc": true}, {"year": 2015, "month": 4, "date": 10, "hours": 16, "utc": true}, {"year": 2015, "month": 4, "date": 20, "hours": 20, "utc": true},
              {"year": 2015, "month": 5, "date": 11, "hours": 4, "utc": true}, {"year": 2015, "month": 5, "date": 21, "hours": 8, "utc": true}, {"year": 2015, "month": 5, "date": 31, "hours": 12, "utc": true}, {"year": 2015, "month": 6, "date": 10, "hours": 16, "utc": true}, {"year": 2015, "month": 6, "date": 20, "hours": 20, "utc": true},
              {"year": 2015, "month": 7, "date": 11, "hours": 8, "utc": true}, {"year": 2015, "month": 7, "date": 21, "hours": 16, "utc": true}, {"year": 2015, "month": 8, "date": 1, "utc": true}, {"year": 2015, "month": 8, "date": 11, "hours": 8, "utc": true}, {"year": 2015, "month": 8, "date": 21, "hours": 16, "utc": true},
              {"year": 2015, "month": 9, "date": 11, "hours": 4, "utc": true}, {"year": 2015, "month": 9, "date": 21, "hours": 8, "utc": true}, {"year": 2015, "month": 10, "date": 1, "hours": 12, "utc": true}, {"year": 2015, "month": 10, "date": 11, "hours": 16, "utc": true}, {"year": 2015, "month": 10, "date": 21, "hours": 20, "utc": true}
            ]}},
        "y": {"field": "v", "type": "quantitative", "scale": {"type": "log", "domain": [0.1, 100000]},
          "axis": {"orient": "right", "title": null, "labels": false, "grid": false, "domain": false, "ticks": true, "tickSize": -5, "tickWidth": 2,
            "values": [0.2, 0.5, 0.8, 2, 5, 8, 20, 50, 80, 200, 500, 800, 2000, 5000, 8000, 20000, 50000, 80000]}}
      }
    },
    {
      "data": {"name": "series"},
      "mark": {"type": "line", "strokeWidth": 2.2, "clip": true},
      "encoding": {
        "x": {"field": "t", "type": "temporal", "scale": {"type": "utc", "nice": false, "domain": [{"year": 2014, "month": 10, "date": 24, "hours": 8, "utc": true}, {"year": 2015, "month": 11, "date": 1, "utc": true}]},
          "axis": {"orient": "bottom", "title": null, "ticks": false, "tickSize": 0, "domain": false,
            "grid": true, "gridColor": "black", "gridDash": [2, 3], "gridWidth": 1, "gridOpacity": 1,
            "values": [{"year": 2014, "month": 11, "date": 1, "utc": true}, {"year": 2015, "month": 1, "date": 1, "utc": true}, {"year": 2015, "month": 3, "date": 1, "utc": true}, {"year": 2015, "month": 5, "date": 1, "utc": true}, {"year": 2015, "month": 7, "date": 1, "utc": true}, {"year": 2015, "month": 9, "date": 1, "utc": true}, {"year": 2015, "month": 11, "date": 1, "utc": true}],
            "labelExpr": "[utcFormat(datum.value, '%b'), utcFormat(datum.value, '%Y')]",
            "labelFontSize": 24, "labelLineHeight": 25, "labelBaseline": "top", "labelPadding": 13, "labelFlush": false, "labelOverlap": false}},
        "y": {"field": "v", "type": "quantitative", "scale": {"type": "log", "domain": [0.1, 100000]},
          "axis": {"orient": "left", "ticks": false, "tickSize": 0, "domain": false,
            "grid": true, "gridColor": "black", "gridDash": [2, 3], "gridWidth": 1, "gridOpacity": 1,
            "values": [0.1, 1, 10, 100, 1000, 10000, 100000], "format": "~g",
            "labelFontSize": 24, "labelPadding": 17, "labelFlush": false, "labelOverlap": false,
            "title": "Timing Uncertainty, 3-sigma,  sec", "titleFontSize": 29, "titleFontWeight": "normal",
            "titleAngle": -90, "titleX": -143, "titleY": 358, "titleAlign": "center", "titleBaseline": "alphabetic"}},
        "color": {"field": "s", "type": "nominal",
          "scale": {"domain": ["15 hr", "1 d", "3 d", "5 d", "15 d", "30 d"], "range": ["#ff0000", "#00ee00", "#0000ff", "#ff00ff", "#00f0f0", "#b5b300"]},
          "legend": {"title": null, "orient": "none", "legendX": 18, "legendY": 3, "padding": 10, "fillColor": "white", "strokeColor": null,
            "labelFontSize": 24, "symbolType": "stroke", "symbolSize": 1600, "symbolStrokeWidth": 2.2, "labelOffset": 16, "rowPadding": 0, "clipHeight": 25}},
        "strokeDash": {"field": "s", "type": "nominal",
          "scale": {"domain": ["15 hr", "1 d", "3 d", "5 d", "15 d", "30 d"], "range": [[1, 0], [8, 4], [4, 3], [2, 2.5], [10, 4, 2.5, 4], [7, 4, 2.5, 4, 2.5, 4]]},
          "legend": {"title": null, "orient": "none", "legendX": 18, "legendY": 3, "padding": 10, "fillColor": "white", "strokeColor": null,
            "labelFontSize": 24, "symbolType": "stroke", "symbolSize": 1600, "symbolStrokeWidth": 2.2, "labelOffset": 16, "rowPadding": 0, "clipHeight": 25}}
      }
    }
  ],
  "resolve": {"axis": {"x": "independent", "y": "independent"}}
}
